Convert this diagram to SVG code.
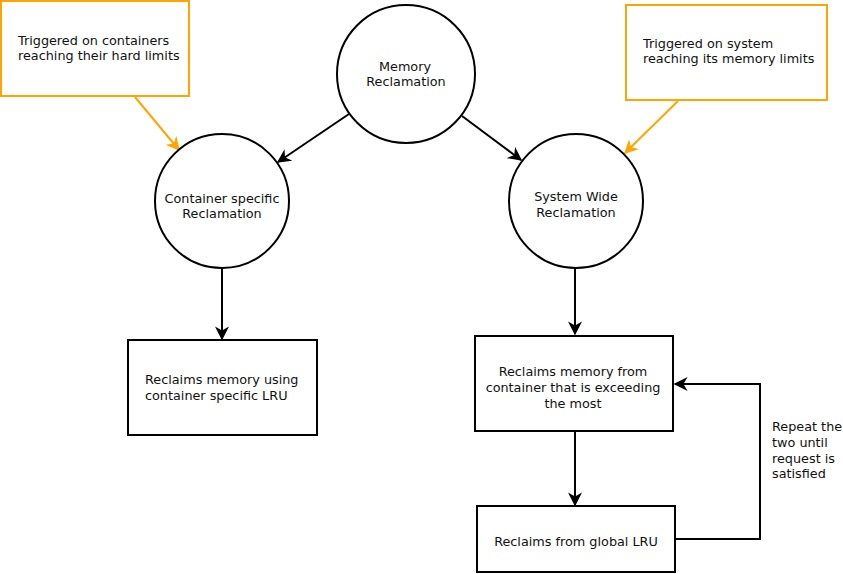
<svg xmlns="http://www.w3.org/2000/svg" width="843" height="574" viewBox="0 0 843 574">
<style>
text{font-family:"DejaVu Sans","Liberation Sans",sans-serif;font-size:12.8px;fill:#111}
.c{text-anchor:middle}
.node{fill:#fff;stroke:#000;stroke-width:2}
.note{fill:#fff;stroke:#FFA500;stroke-width:2}
.e{fill:none;stroke:#000;stroke-width:2;marker-end:url(#ab)}
.o{fill:none;stroke:#FFA500;stroke-width:2;marker-end:url(#ao)}
</style>
<defs>
<marker id="ab" viewBox="0 0 10 10" refX="9" refY="5" markerWidth="7" markerHeight="7" orient="auto" markerUnits="strokeWidth"><path d="M0,0 L10,5 L0,10 L3,5 z" fill="#000"/></marker>
<marker id="ao" viewBox="0 0 10 10" refX="9" refY="5" markerWidth="7" markerHeight="7" orient="auto" markerUnits="strokeWidth"><path d="M0,0 L10,5 L0,10 L3,5 z" fill="#FFA500"/></marker>
</defs>
<rect width="843" height="574" fill="#fff"/>
<g id="connectors">
<line class="e" x1="349" y1="114" x2="278" y2="162"/>
<line class="e" x1="462" y1="116" x2="521" y2="160"/>
<line class="e" x1="222" y1="267" x2="222" y2="339"/>
<line class="e" x1="575" y1="267" x2="575" y2="334"/>
<line class="e" x1="575" y1="432" x2="575" y2="505"/>
<polyline class="e" points="676,539 760,539 760,384 675,384"/>
<line class="o" x1="135" y1="97" x2="179" y2="150"/>
<line class="o" x1="678" y1="101" x2="625" y2="153"/>
</g>
<g id="note1"><rect class="note" x="1" y="1" width="188" height="95"/><text x="18" y="45">Triggered on containers</text><text x="18" y="60">reaching their hard limits</text></g>
<g id="note2"><rect class="note" x="626" y="5" width="201" height="95"/><text x="643" y="48">Triggered on system</text><text x="643" y="63">reaching its memory limits</text></g>
<g id="memory"><circle class="node" cx="406" cy="74" r="69"/><text class="c" x="405" y="71">Memory</text><text class="c" x="406" y="86">Reclamation</text></g>
<g id="container"><circle class="node" cx="222" cy="201" r="67"/><text class="c" x="222" y="203">Container specific</text><text class="c" x="222" y="218">Reclamation</text></g>
<g id="system"><circle class="node" cx="576" cy="201" r="67"/><text class="c" x="576" y="201">System Wide</text><text class="c" x="576" y="217">Reclamation</text></g>
<g id="box1"><rect class="node" x="128" y="340" width="189" height="95"/><text x="145" y="384">Reclaims memory using</text><text x="145" y="400">container specific LRU</text></g>
<g id="box2"><rect class="node" x="475" y="336" width="198" height="95"/><text class="c" x="573" y="376">Reclaims memory from</text><text class="c" x="573" y="392">container that is exceeding</text><text class="c" x="573" y="408">the most</text></g>
<g id="box3"><rect class="node" x="477" y="506" width="198" height="66"/><text class="c" x="576" y="546">Reclaims from global LRU</text></g>
<g id="label"><text x="772" y="431">Repeat the</text><text x="772" y="447">two until</text><text x="772" y="463">request is</text><text x="772" y="478">satisfied</text></g>
</svg>
